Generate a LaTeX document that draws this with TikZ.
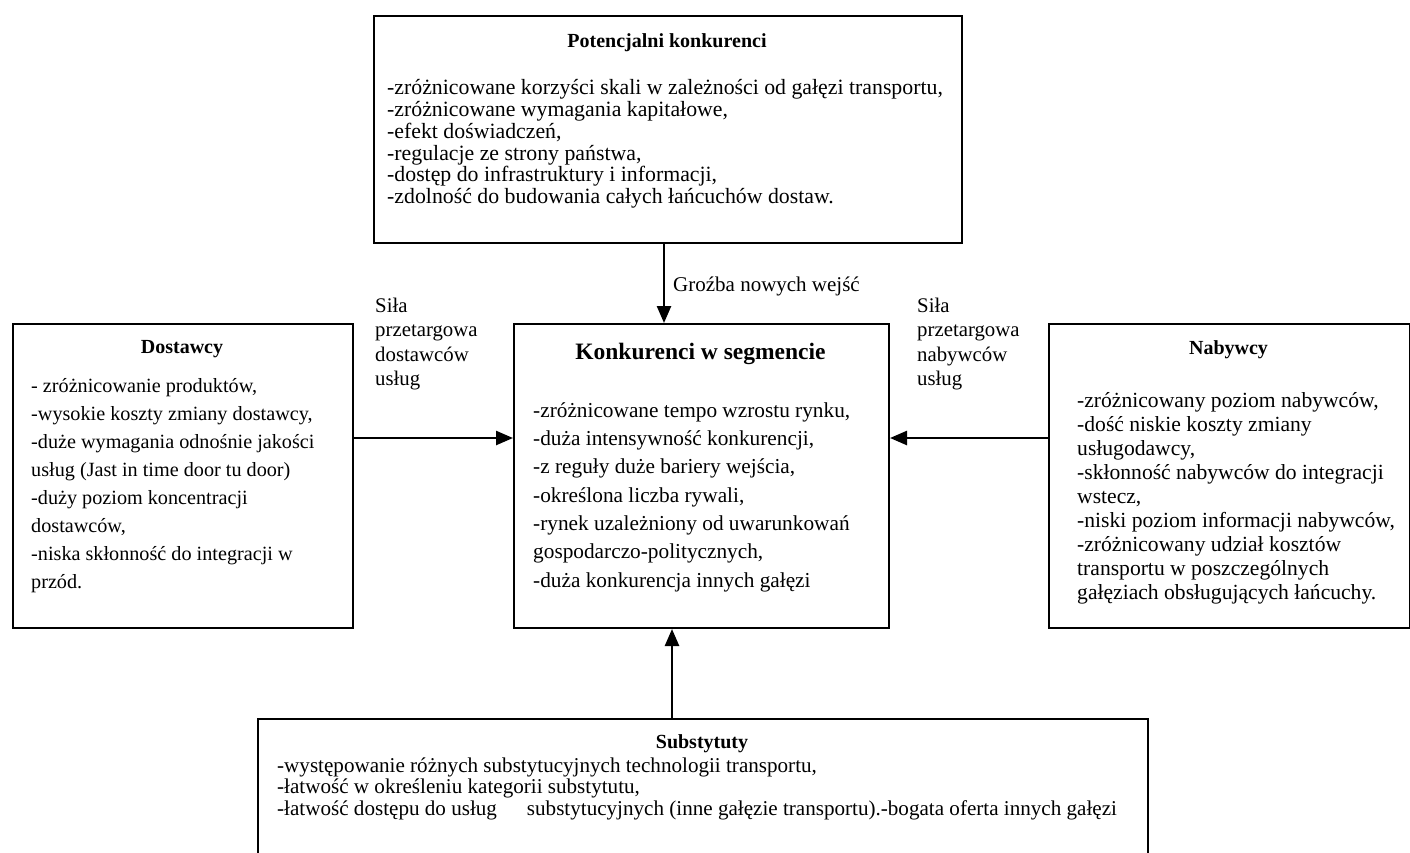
\documentclass[tikz,border=0pt]{standalone}
\usepackage{fontspec}
\setmainfont{Liberation Serif}
\usetikzlibrary{arrows.meta}
\tikzset{
  box/.style={draw, line width=2pt, inner sep=0pt, anchor=north west},
  arr/.style={line width=2.5pt, -{Triangle[length=17pt,width=14pt]}},
  txt/.style={inner sep=0pt, anchor=north west, align=left},
  ttl/.style={inner sep=0pt, anchor=base, font=\bfseries\fontsize{20}{24}\selectfont},
}
\begin{document}
\begin{tikzpicture}[x=1pt,y=-1pt]
\clip (0,0) rectangle (1410,852);
\fill[white] (0,0) rectangle (1410,852);

% boxes
\node[box, minimum width=588pt, minimum height=227pt] (pot) at (373,15) {};
\node[box, minimum width=375pt, minimum height=304pt] (seg) at (513,323) {};
\node[box, minimum width=340pt, minimum height=304pt] (sup) at (12,323) {};
\node[box, minimum width=361pt, minimum height=304pt] (buy) at (1048,323) {};
\node[box, minimum width=890pt, minimum height=160pt] (sub) at (257,718) {};

% titles
\node[ttl] (potT) at (667,47) {Potencjalni konkurenci};
\node[ttl, font=\bfseries\fontsize{23.5}{28}\selectfont] (segT) at (700.5,359) {Konkurenci w segmencie};
\node[ttl] (supT) at (182,353) {Dostawcy};
\node[ttl] (buyT) at (1228.5,354) {Nabywcy};
\node[ttl] (subT) at (702,748) {Substytuty};

% texts
\node[txt, font=\fontsize{21.8}{21.6}\selectfont] (potX) at (387,78.9) {\strut-zróżnicowane korzyści skali w zależności od gałęzi transportu,\\
-zróżnicowane wymagania kapitałowe,\\
-efekt doświadczeń,\\
-regulacje ze strony państwa,\\
-dostęp do infrastruktury i informacji,\\
-zdolność do budowania całych łańcuchów dostaw.};

\node[txt, font=\fontsize{21.3}{28.3}\selectfont] (segX) at (533,397.2) {\strut-zróżnicowane tempo wzrostu rynku,\\
-duża intensywność konkurencji,\\
-z reguły duże bariery wejścia,\\
-określona liczba rywali,\\
-rynek uzależniony od uwarunkowań\\
gospodarczo-politycznych,\\
-duża konkurencja innych gałęzi};

\node[txt, font=\fontsize{20.2}{28}\selectfont] (supX) at (31,372.4) {\strut- zróżnicowanie produktów,\\
-wysokie koszty zmiany dostawcy,\\
-duże wymagania odnośnie jakości\\
usług (Jast in time door tu door)\\
-duży poziom koncentracji\\
dostawców,\\
-niska skłonność do integracji w\\
przód.};

\node[txt, font=\fontsize{21.6}{24}\selectfont] (buyX) at (1077,390.2) {\strut-zróżnicowany poziom nabywców,\\
-dość niskie koszty zmiany\\
usługodawcy,\\
-skłonność nabywców do integracji\\
wstecz,\\
-niski poziom informacji nabywców,\\
-zróżnicowany udział kosztów\\
transportu w poszczególnych\\
gałęziach obsługujących łańcuchy.};

\node[txt, font=\fontsize{21.1}{21.5}\selectfont] (subX) at (277,757) {\strut-występowanie różnych substytucyjnych technologii transportu,\\
-łatwość w określeniu kategorii substytutu,\\
-łatwość dostępu do usług\hspace{30pt}substytucyjnych (inne gałęzie transportu).-bogata oferta innych gałęzi};

% arrow labels
\node[txt, font=\fontsize{20.8}{24.5}\selectfont] (supL) at (375,294.85) {\strut Siła\\przetargowa\\dostawców\\usług};
\node[txt, font=\fontsize{20.8}{24.5}\selectfont] (buyL) at (917,294.85) {\strut Siła\\przetargowa\\nabywców\\usług};
\node[inner sep=0pt, anchor=base west, font=\fontsize{21}{24}\selectfont] (thr) at (673,291) {Groźba nowych wejść};

% connectors
\coordinate (axt) at (664,0);
\coordinate (axb) at (672,0);
\coordinate (ay) at (0,438);
\draw[arr] (pot.south -| axt) -- (seg.north -| axt);
\draw[arr] (sub.north -| axb) -- (seg.south -| axb);
\draw[arr] (sup.east |- ay) -- (seg.west |- ay);
\draw[arr] (buy.west |- ay) -- (seg.east |- ay);
\end{tikzpicture}
\end{document}
